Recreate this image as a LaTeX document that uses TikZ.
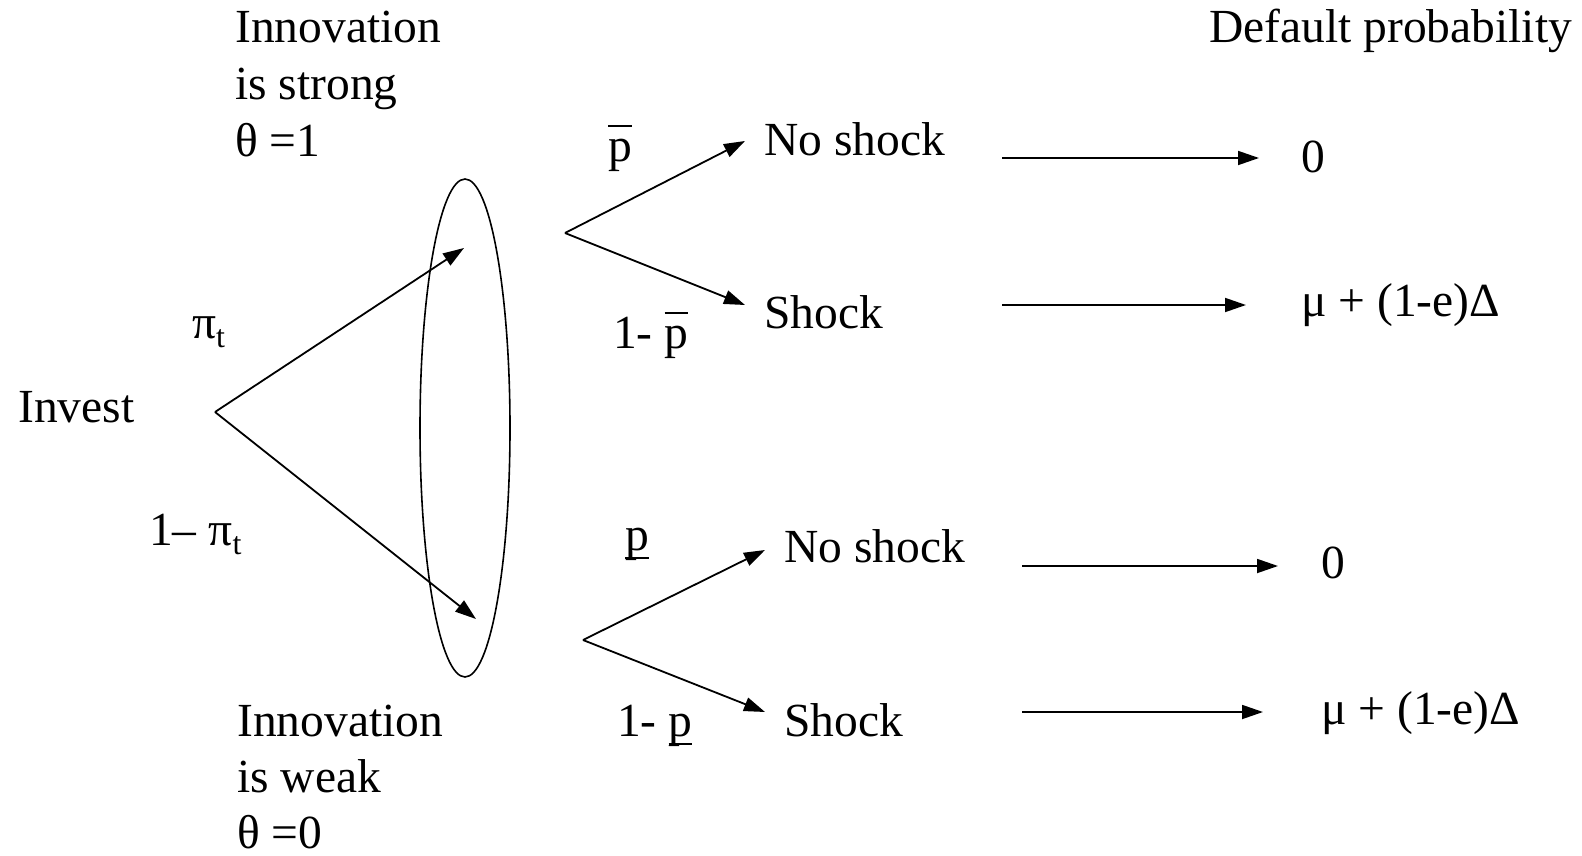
\documentclass[tikz,border=0pt]{standalone}
\usepackage{fontspec}
\setmainfont{Liberation Serif}
\usetikzlibrary{arrows.meta,shapes.geometric}
\newcommand\obarp{\leavevmode\vbox{\hrule height 2pt width 0.5em\kern 12pt\hbox{p}}}
\newcommand\ubarp{\leavevmode\vtop{\hbox{p}\kern-3pt\hrule height 2pt width 0.5em}}
\newcommand\subt{\raisebox{-0.2em}{\fontsize{32}{32}\selectfont t}}
\begin{document}
\begin{tikzpicture}[x=1pt,y=-1pt,
  lbl/.style={anchor=base west,inner sep=0pt,font=\fontsize{47.5}{57}\selectfont},
  conn/.style={line width=1.8pt},
  arr/.style={line width=1.8pt,-{Triangle[length=21pt,width=14pt]}}]
\useasboundingbox (0,0) rectangle (1582,856);
% texts
\node[lbl] (s1) at (235,43) {Innovation};
\node[lbl] (s2) at (235,100) {is strong};
\node[lbl] (s3) at (235,157) {θ =1};
\node[lbl] (w1) at (237,736) {Innovation};
\node[lbl] (w2) at (237,792) {is weak};
\node[lbl] (w3) at (237,848) {θ =0};
\node[lbl] (dp) at (1209,43) {Default probability};
\node[lbl] (inv) at (18,422) {Invest};
\node[lbl] (pit) at (192,338) {π\subt};
\node[lbl] (npit) at (149,545) {1– π\subt};
\node[lbl] (pb) at (608,161) {\obarp};
\node[lbl] (npb) at (613,348) {1- \obarp};
\node[lbl] (pu) at (625,550) {\ubarp};
\node[lbl] (npu) at (617,736) {1- \ubarp};
\node[lbl] (ns1) at (764,156) {No shock};
\node[lbl] (sh1) at (764,328) {Shock};
\node[lbl] (ns2) at (784,562) {No shock};
\node[lbl] (sh2) at (784,736) {Shock};
\node[lbl] (z1) at (1301,172) {0};
\node[lbl] (m1) at (1301,316) {μ + (1-e)Δ};
\node[lbl] (z2) at (1321,578) {0};
\node[lbl] (m2) at (1321,724) {μ + (1-e)Δ};
% ellipse
\node[draw,ellipse,line width=1.6pt,minimum width=90pt,minimum height=498pt,inner sep=0pt] (ell) at (465,428) {};
% branch points
\coordinate (v0) at (215,412);
\coordinate (e1) at (464,248);
\coordinate (e2) at (476,619);
\coordinate (v1) at (565,233);
\coordinate (a1) at (745,141);
\coordinate (a2) at (745,305);
\coordinate (v2) at (583,640);
\coordinate (b1) at (765,550);
\coordinate (b2) at (765,712);
\coordinate (r1s) at (1002,158);
\coordinate (r1e) at (1259,158);
\coordinate (r2s) at (1002,305);
\coordinate (r2e) at (1246,305);
\coordinate (r3s) at (1022,566);
\coordinate (r3e) at (1278,566);
\coordinate (r4s) at (1022,712);
\coordinate (r4e) at (1263,712);
% connectors
\draw[arr] (v0) -- (e1);
\draw[arr] (v0) -- (e2);
\draw[arr] (v1) -- (a1);
\draw[arr] (v1) -- (a2);
\draw[arr] (v2) -- (b1);
\draw[arr] (v2) -- (b2);
\draw[arr] (r1s) -- (r1e);
\draw[arr] (r2s) -- (r2e);
\draw[arr] (r3s) -- (r3e);
\draw[arr] (r4s) -- (r4e);
\end{tikzpicture}
\end{document}
